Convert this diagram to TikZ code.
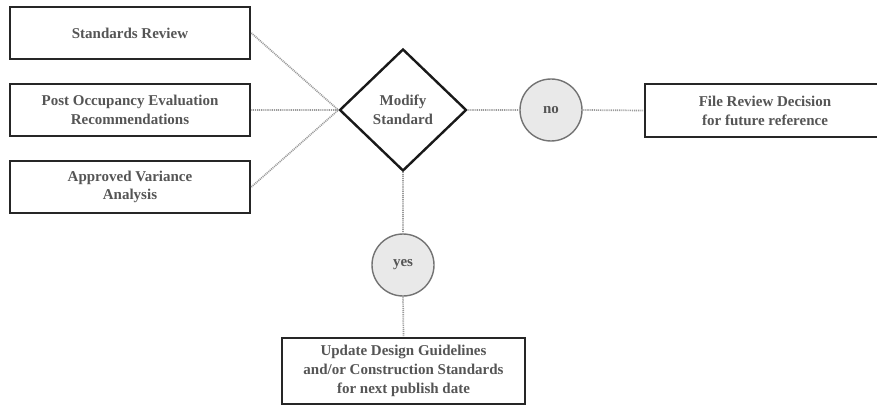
\documentclass[tikz,border=0pt]{standalone}
\usepackage{fontspec}
\setmainfont{Liberation Serif}
\usetikzlibrary{shapes.geometric}
\definecolor{inkgray}{HTML}{555555}
\definecolor{dotgray}{HTML}{9A9A9A}
\definecolor{bubble}{HTML}{E9E9E9}
\tikzset{
	box/.style={draw=black!85, line width=2.6pt, fill=white, align=center, inner sep=0pt},
	decision/.style={diamond, draw=black!90, line width=2.4pt, fill=white, inner sep=0pt, minimum width=127pt, minimum height=122pt, align=center},
	answer/.style={circle, draw=black!55, line width=1.4pt, fill=bubble, minimum size=62pt, inner sep=0pt},
	link/.style={draw=dotgray, line width=1.7pt, dash pattern=on 1pt off 0.9pt},
}
\begin{document}
\begin{tikzpicture}[x=1pt, y=-1pt, font=\fontsize{15}{18.8}\selectfont\bfseries, text=inkgray]
		\useasboundingbox (0,0) rectangle (877,406);
		\clip (0,0) rectangle (877,406);
		\node[box, minimum width=240pt, minimum height=52pt] (rev) at (130,33) {Standards Review};
		\node[box, minimum width=240pt, minimum height=52pt] (poe) at (130,110) {Post Occupancy Evaluation\\Recommendations};
		\node[box, minimum width=240pt, minimum height=52pt] (var) at (130,187) {Approved Variance\\Analysis};
		\node[decision] (mod) at (403,110) {Modify\\Standard};
		\node[answer] (no) at (551,110) {no};
		\node[box, minimum width=240pt, minimum height=53pt] (file) at (765,110.5) {File Review Decision\\for future reference};
		\node[answer] (yes) at (403,265) {yes};
		\node[box, minimum width=243pt, minimum height=66pt] (upd) at (403.5,371) {Update Design Guidelines\\and/or Construction Standards\\for next publish date};
		\draw[link] (rev.east) -- (mod.west) (poe.east) -- (mod.west) (var.east) -- (mod.west);
		\draw[link] (mod.east) -- (no.west) (no.east) -- (file.west);
		\draw[link] (mod.south) -- (yes.north) (yes.south) -- (upd.north);
	\end{tikzpicture}
\end{document}
